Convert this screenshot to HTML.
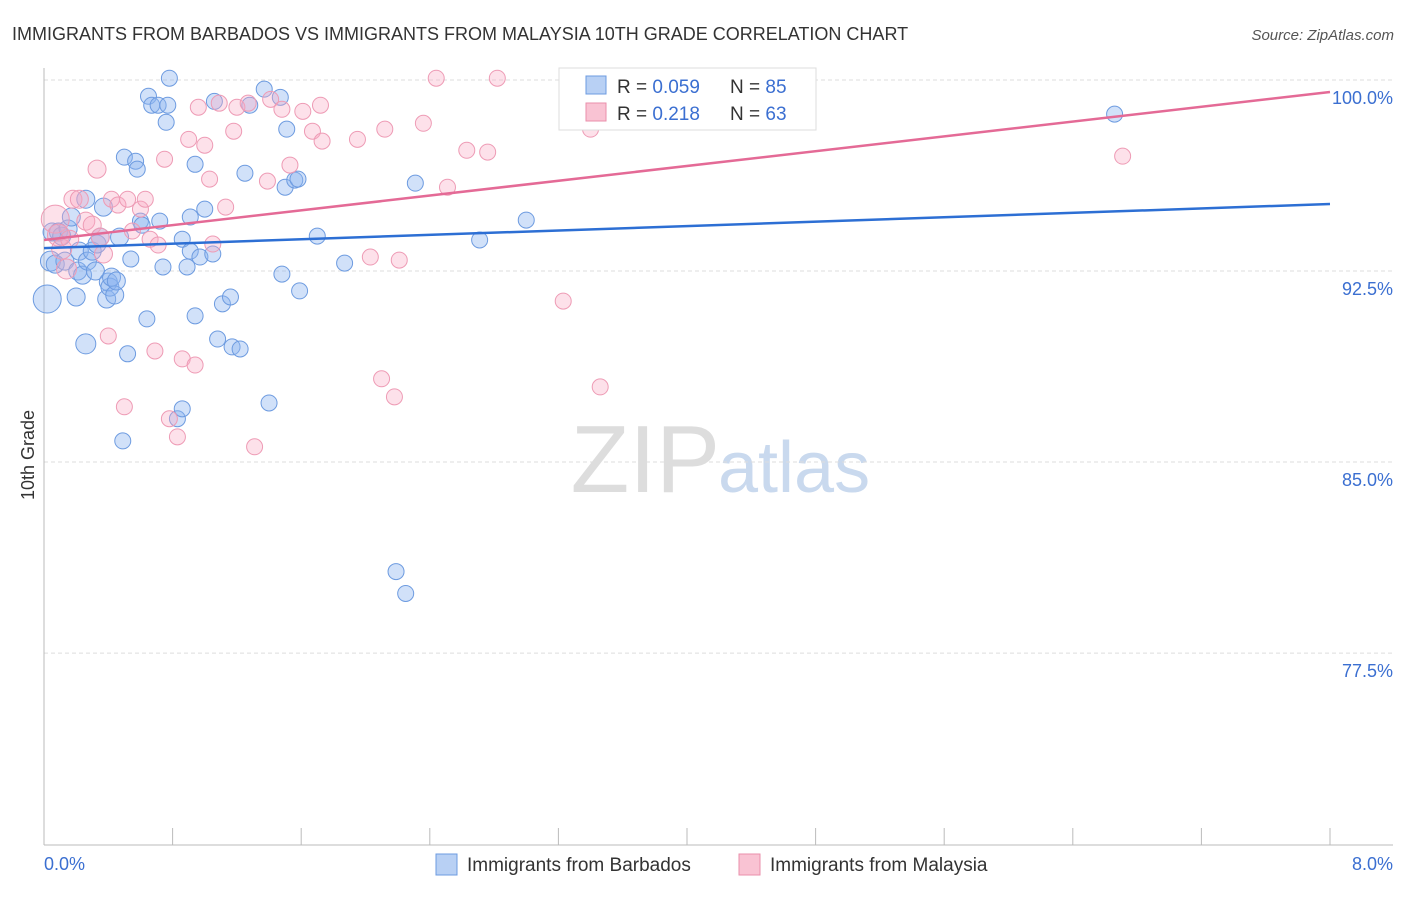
<!DOCTYPE html>
<html><head><meta charset="utf-8"><style>
body{margin:0;background:#fff;font-family:"Liberation Sans",sans-serif;}
svg text{font-family:"Liberation Sans",sans-serif;}
</style></head><body>
<svg width="1406" height="892" xmlns="http://www.w3.org/2000/svg">
<text x="12" y="40" font-size="18" fill="#333">IMMIGRANTS FROM BARBADOS VS IMMIGRANTS FROM MALAYSIA 10TH GRADE CORRELATION CHART</text>
<text x="1394" y="40" font-size="15" fill="#555" font-style="italic" text-anchor="end">Source: ZipAtlas.com</text>
<text x="720" y="492" font-size="96" fill="#ddd" text-anchor="end" font-family="Liberation Serif">ZIP</text>
<text x="718" y="492" font-size="72" fill="#c9d9ee">atlas</text>
<g id="grid"></g><g id="axes"></g><g id="pts"></g><g id="trend"></g>
<text transform="translate(34,455) rotate(-90)" font-size="18" fill="#333" text-anchor="middle">10th Grade</text>
<text x="44" y="870" font-size="18" fill="#3b6fd1">0.0%</text>
<text x="1393" y="870" font-size="18" fill="#3b6fd1" text-anchor="end">8.0%</text>
<g>
<rect x="559" y="68" width="257" height="62" fill="#fff" stroke="#ddd"/>
<rect x="586" y="76" width="20" height="18" fill="#b8d0f4" stroke="#6d9be0"/>
<rect x="586" y="103" width="20" height="18" fill="#f9c3d3" stroke="#ea8fab"/>
<text x="617" y="93" font-size="19" fill="#333">R = <tspan fill="#3b6fd1">0.059</tspan></text>
<text x="730" y="93" font-size="19" fill="#333">N = <tspan fill="#3b6fd1">85</tspan></text>
<text x="617" y="120" font-size="19" fill="#333">R = <tspan fill="#3b6fd1"> 0.218</tspan></text>
<text x="730" y="120" font-size="19" fill="#333">N = <tspan fill="#3b6fd1">63</tspan></text>
</g>
<g><rect x="436" y="854" width="21" height="21" fill="#b8d0f4" stroke="#6d9be0"/><text x="467" y="871" font-size="19" fill="#333">Immigrants from Barbados</text></g>
<g><rect x="739" y="854" width="21" height="21" fill="#f9c3d3" stroke="#ea8fab"/><text x="770" y="871" font-size="19" fill="#333">Immigrants from Malaysia</text></g>
</svg>
<script>
const blueX=[.02,.04,.05,.07,.09,.11,.13,.15,.17,.20,.21,.22,.24,.26,.26,.27,.30,.32,.33,.35,.37,.39,.40,.41,.42,.44,.45,.47,.49,.50,.52,.54,.57,.58,.60,.61,.64,.65,.67,.71,.72,.74,.76,.77,.78,.83,.86,.86,.89,.91,.91,.94,.94,.97,1.00,1.05,1.06,1.08,1.11,1.16,1.17,1.22,1.25,1.28,1.37,1.40,1.47,1.48,1.50,1.51,1.56,1.58,1.59,1.70,1.87,2.19,2.25,2.31,2.71,3.00,6.66];
const blueY=[91.4,92.89,94.03,92.77,94.03,93.87,92.89,94.15,94.62,91.48,92.5,93.28,92.34,95.32,89.64,92.89,93.28,92.5,93.56,93.83,95.01,91.4,92.07,91.87,92.26,91.56,92.11,93.83,85.83,96.97,89.25,92.97,96.81,96.5,94.46,94.3,90.62,99.36,99.01,99.01,94.46,92.66,98.34,99.01,100.07,86.7,93.75,87.09,92.66,94.62,93.28,96.69,90.74,93.05,94.93,93.17,99.16,89.83,91.21,91.48,89.52,89.44,96.34,99.01,99.64,87.32,99.32,92.38,95.79,98.07,96.07,96.11,91.72,93.87,92.81,80.7,79.84,95.95,93.72,94.5,98.66];
const blueR=[14,10,9,9,9,9,9,9,9,9,9,9,9,9,10,9,9,9,9,9,9,9,9,9,9,9,9,9,8,8,8,8,8,8,8,8,8,8,8,8,8,8,8,8,8,8,8,8,8,8,8,8,8,8,8,8,8,8,8,8,8,8,8,8,8,8,8,8,8,8,8,8,8,8,8,8,8,8,8,8,8];
const pinkX=[.07,.09,.11,.14,.16,.18,.22,.26,.30,.33,.35,.37,.40,.42,.46,.50,.52,.55,.60,.63,.66,.69,.71,.75,.78,.83,.86,.90,.94,.96,1.00,1.03,1.05,1.09,1.13,1.18,1.20,1.27,1.31,1.39,1.41,1.48,1.53,1.61,1.67,1.72,1.73,1.95,2.03,2.10,2.12,2.18,2.21,2.36,2.44,2.51,2.63,2.76,2.82,3.23,3.40,3.46,6.71];
const pinkY=[94.54,93.91,93.36,92.58,93.75,95.32,95.32,94.46,94.3,96.5,93.83,93.17,89.95,95.32,95.09,87.17,95.32,94.07,94.93,95.32,93.75,89.36,93.52,96.89,86.7,85.99,89.05,97.67,88.81,98.93,97.44,96.11,93.56,99.09,95.01,97.99,98.93,99.09,85.6,96.03,99.24,98.85,96.66,98.77,97.99,99.01,97.6,97.67,93.05,88.27,98.07,87.56,92.93,98.3,100.07,95.79,97.24,97.17,100.07,91.32,98.07,87.95,97.01];
const pinkR=[14,11,10,10,9,9,9,9,9,9,9,9,8,8,8,8,8,8,8,8,8,8,8,8,8,8,8,8,8,8,8,8,8,8,8,8,8,8,8,8,8,8,8,8,8,8,8,8,8,8,8,8,8,8,8,8,8,8,8,8,8,8,8];
const blueTrend=[93.40,95.13];
const pinkTrend=[93.72,99.53];
const yTicks=[100,92.5,85,77.5];
const yTickLabels=["100.0%","92.5%","85.0%","77.5%"];
const xTicks=[0,0.8,1.6,2.4,3.2,4.0,4.8,5.6,6.4,7.2,8.0];
const NS="http://www.w3.org/2000/svg";
const sx=v=>44+v/8*1286;
const sy=v=>80+(100-v)*25.47;
function mk(tag,attrs,parent){const e=document.createElementNS(NS,tag);for(const k in attrs)e.setAttribute(k,attrs[k]);document.getElementById(parent).appendChild(e);return e;}
yTicks.forEach((t,i)=>{
  const l=mk('line',{x1:44,x2:1393,y1:sy(t),y2:sy(t),stroke:'#ddd','stroke-dasharray':'4 3'},'grid');
  
  
  const tx=mk('text',{x:1393,y:sy(t)+24,'font-size':18,fill:'#3b6fd1','text-anchor':'end'},'grid');
  tx.textContent=yTickLabels[i];
  
  
});
const ax=mk('line',{x1:44,x2:44,y1:68,y2:845,stroke:'#bbb'},'axes');


const bx=mk('line',{x1:44,x2:1393,y1:845,y2:845,stroke:'#bbb'},'axes');


xTicks.forEach(t=>{
  const l=mk('line',{x1:sx(t),x2:sx(t),y1:828,y2:845,stroke:'#bbb'},'axes');
  
  
});
blueX.forEach((x,i)=>{
  const c=mk('circle',{cx:sx(x),cy:sy(blueY[i]),r:blueR[i]||8,fill:'rgba(140,180,240,0.4)',stroke:'#6d9be0','stroke-width':1},'pts');
  
  
});
pinkX.forEach((x,i)=>{
  const c=mk('circle',{cx:sx(x),cy:sy(pinkY[i]),r:pinkR[i]||8,fill:'rgba(248,170,195,0.35)',stroke:'#ee9bb5','stroke-width':1},'pts');
  
  
});
const tb=mk('line',{x1:sx(0),y1:sy(blueTrend[0]),x2:sx(8),y2:sy(blueTrend[1]),stroke:'#2d6fd4','stroke-width':2.5},'trend');


const tp=mk('line',{x1:sx(0),y1:sy(pinkTrend[0]),x2:sx(8),y2:sy(pinkTrend[1]),stroke:'#e46a96','stroke-width':2.5},'trend');


</script>
</body></html>
